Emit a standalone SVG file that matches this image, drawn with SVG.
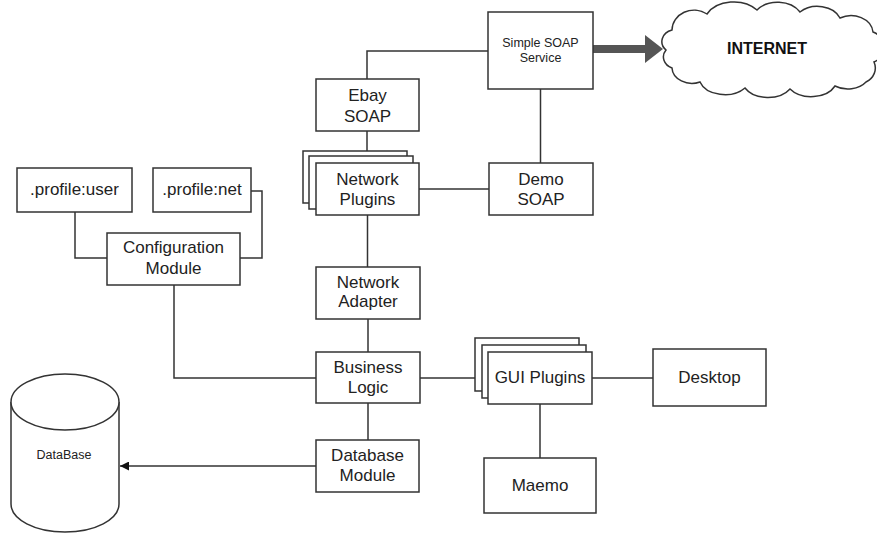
<svg xmlns="http://www.w3.org/2000/svg" width="877" height="534" viewBox="0 0 877 534">
<defs>
<style>
.box{fill:#fff;stroke:#333;stroke-width:1.5}
.ln{fill:none;stroke:#333;stroke-width:1.5}
.t{font-family:"Liberation Sans",Arial,sans-serif;font-size:17px;fill:#222;text-anchor:middle}
.s{font-family:"Liberation Sans",Arial,sans-serif;font-size:12.5px;fill:#222;text-anchor:middle}
.b{font-family:"Liberation Sans",Arial,sans-serif;font-size:16px;font-weight:bold;fill:#111;text-anchor:middle}
</style>
<marker id="ah" viewBox="0 0 10 10" refX="10" refY="5" markerWidth="9" markerHeight="9" markerUnits="userSpaceOnUse" orient="auto">
<path d="M0,0 L10,5 L0,10 z" fill="#111"/>
</marker>
</defs>
<rect width="877" height="534" fill="#fff"/>

<g id="connectors">
<path class="ln" d="M488,51 H367 V79"/>
<path class="ln" d="M367,131 V163"/>
<path class="ln" d="M540.5,89 V163"/>
<path class="ln" d="M419,189 H489"/>
<path class="ln" d="M367.5,215 V267"/>
<path class="ln" d="M368,319 V352"/>
<path class="ln" d="M75,212 V258 H107"/>
<path class="ln" d="M251,191 H262 V258 H240"/>
<path class="ln" d="M174,285 V378 H316"/>
<path class="ln" d="M420,378 H488"/>
<path class="ln" d="M592,378 H653"/>
<path class="ln" d="M540,404 V458"/>
<path class="ln" d="M368,403 V440"/>
<path class="ln" d="M316,466 H120" marker-end="url(#ah)"/>
<path d="M593,49 H648" stroke="#555" stroke-width="8" fill="none"/>
<polygon points="645,35 663,49 645,63" fill="#555"/>
</g>

<g id="simple-soap">
<rect class="box" x="488" y="12" width="105" height="77"/>
<text class="s" x="540.5" y="47">Simple SOAP</text>
<text class="s" x="540.5" y="62">Service</text>
</g>

<g id="internet">
<path fill="#fff" stroke="#333" stroke-width="1.5" d="M672,30 A22,20 0 0 1 707,14 A30,22 0 0 1 757,10 A26,20 0 0 1 800,12 A24,18 0 0 1 840,18 A22,18 0 0 1 873,32 A16,16 0 0 1 874,62 A18,16 0 0 1 866,82 A22,16 0 0 1 835,86 A26,18 0 0 1 790,89 A26,18 0 0 1 745,88 A26,18 0 0 1 700,82 A20,16 0 0 1 672,68 A14,12 0 0 1 666,50 A14,12 0 0 1 672,30 Z"/>
<text class="b" x="767" y="54">INTERNET</text>
</g>

<g id="ebay-soap">
<rect class="box" x="316" y="79" width="103" height="52"/>
<text class="t" x="367.5" y="101">Ebay</text>
<text class="t" x="367.5" y="122">SOAP</text>
</g>

<g id="network-plugins">
<rect class="box" x="303" y="151" width="104" height="52"/>
<rect class="box" x="309" y="156" width="104" height="53"/>
<rect class="box" x="316" y="163" width="103" height="52"/>
<text class="t" x="367.5" y="185">Network</text>
<text class="t" x="367.5" y="205">Plugins</text>
</g>

<g id="demo-soap">
<rect class="box" x="489" y="163" width="104" height="52"/>
<text class="t" x="541" y="185">Demo</text>
<text class="t" x="541" y="205">SOAP</text>
</g>

<g id="profile-user">
<rect class="box" x="17" y="168" width="115" height="44"/>
<text class="t" x="74.5" y="195">.profile:user</text>
</g>

<g id="profile-net">
<rect class="box" x="153" y="168" width="98" height="44"/>
<text class="t" x="202" y="195">.profile:net</text>
</g>

<g id="configuration-module">
<rect class="box" x="107" y="233" width="133" height="52"/>
<text class="t" x="173.5" y="253">Configuration</text>
<text class="t" x="173.5" y="274">Module</text>
</g>

<g id="network-adapter">
<rect class="box" x="316" y="267" width="104" height="52"/>
<text class="t" x="368" y="288">Network</text>
<text class="t" x="368" y="307">Adapter</text>
</g>

<g id="business-logic">
<rect class="box" x="316" y="352" width="104" height="51"/>
<text class="t" x="368" y="373">Business</text>
<text class="t" x="368" y="393">Logic</text>
</g>

<g id="gui-plugins">
<rect class="box" x="475" y="338" width="104" height="53"/>
<rect class="box" x="482" y="345" width="104" height="53"/>
<rect class="box" x="488" y="352" width="104" height="52"/>
<text class="t" x="540" y="383">GUI Plugins</text>
</g>

<g id="desktop">
<rect class="box" x="653" y="349" width="113" height="57"/>
<text class="t" x="709.5" y="383">Desktop</text>
</g>

<g id="maemo">
<rect class="box" x="484" y="458" width="112" height="55"/>
<text class="t" x="540" y="491">Maemo</text>
</g>

<g id="database-module">
<rect class="box" x="316" y="440" width="103" height="52"/>
<text class="t" x="367.5" y="461">Database</text>
<text class="t" x="367.5" y="481">Module</text>
</g>

<g id="database">
<path fill="#fff" stroke="#333" stroke-width="1.5" d="M11,402 V504 A54,28 0 0 0 119,504 V402"/>
<ellipse cx="65" cy="402" rx="54" ry="28" fill="#fff" stroke="#333" stroke-width="1.5"/>
<text class="s" x="64" y="459">DataBase</text>
</g>
</svg>
